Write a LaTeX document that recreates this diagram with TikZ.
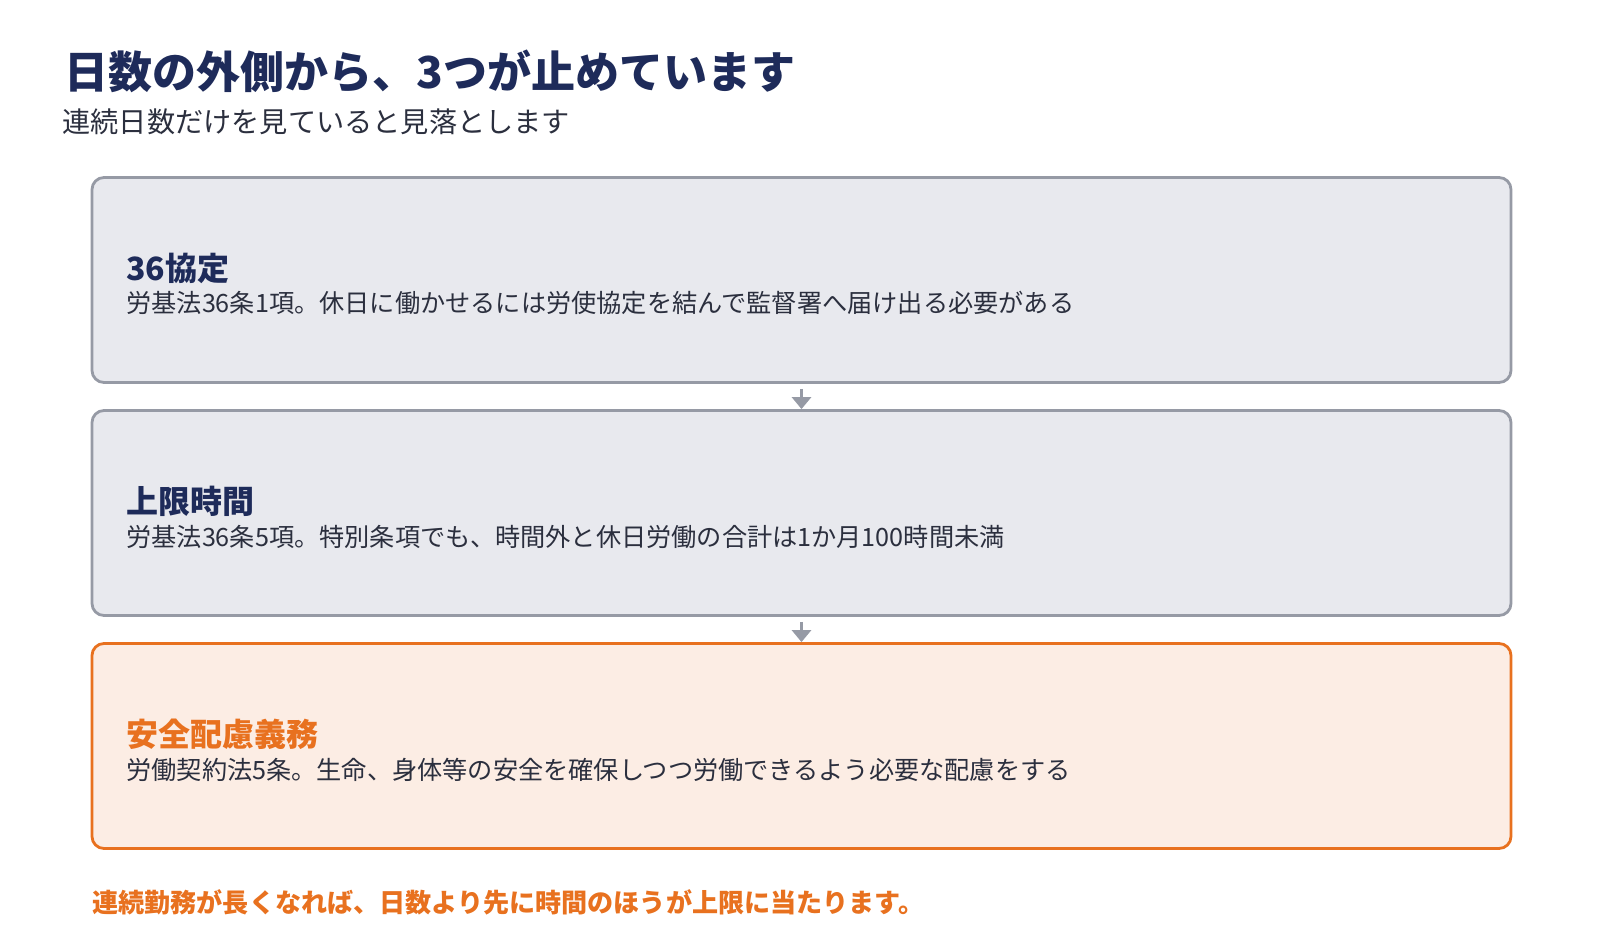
\documentclass[tikz,border=0pt]{standalone}
\usepackage{fontspec}
\setmainfont{Noto Sans CJK JP}
\usetikzlibrary{arrows.meta}

\definecolor{navy}{RGB}{30,43,90}
\definecolor{ink}{RGB}{43,47,62}
\definecolor{edgegray}{RGB}{150,154,165}
\definecolor{fillgray}{RGB}{232,233,238}
\definecolor{accent}{RGB}{232,113,31}
\definecolor{fillpeach}{RGB}{252,237,228}

\tikzset{
  card/.style={draw=edgegray, fill=fillgray, line width=1.4pt, rounded corners=6pt,
    minimum width=709.5pt, minimum height=102.5pt, inner sep=0pt},
  hotcard/.style={card, draw=accent, fill=fillpeach},
  cardhead/.style={anchor=west, inner sep=0pt, font=\fontsize{16}{19}\selectfont\bfseries, text=navy},
  cardtext/.style={anchor=west, inner sep=0pt, font=\fontsize{12.6}{15}\selectfont, text=ink},
  flow/.style={-{Triangle[width=9.5pt,length=6pt]}, draw=edgegray, line width=1.75pt}
}

\begin{document}
\begin{tikzpicture}[x=0.5pt, y=-0.5pt]
  \useasboundingbox (0,0) rectangle (1600,940);

  \node[anchor=west, inner sep=0pt, font=\fontsize{22}{26}\selectfont\bfseries, text=navy]
    (title) at (64,71) {日数の外側から、3つが止めています};
  \node[anchor=west, inner sep=0pt, font=\fontsize{14.1}{17}\selectfont, text=ink]
    (subtitle) at (62,122) {連続日数だけを見ていると見落とします};

  \node[card] (agree) at (801.5,280) {};
  \node[card] (limit) at (801.5,513) {};
  \node[hotcard] (safety) at (801.5,746) {};

  \node[cardhead] (agreehead) at (126,268) {36協定};
  \node[cardtext] (agreetext) at (126,303) {労基法36条1項。休日に働かせるには労使協定を結んで監督署へ届け出る必要がある};
  \node[cardhead] (limithead) at (126,501) {上限時間};
  \node[cardtext] (limittext) at (126,537) {労基法36条5項。特別条項でも、時間外と休日労働の合計は1か月100時間未満};
  \node[cardhead, text=accent] (safetyhead) at (126,734) {安全配慮義務};
  \node[cardtext] (safetytext) at (126,770) {労働契約法5条。生命、身体等の安全を確保しつつ労働できるよう必要な配慮をする};

  \draw[flow] ([yshift=-2.5pt]agree.south) -- (limit.north);
  \draw[flow] ([yshift=-2.5pt]limit.south) -- (safety.north);

  \node[anchor=west, inner sep=0pt, font=\fontsize{13.05}{15}\selectfont\bfseries, text=accent]
    (note) at (92,902) {連続勤務が長くなれば、日数より先に時間のほうが上限に当たります。};
\end{tikzpicture}
\end{document}
